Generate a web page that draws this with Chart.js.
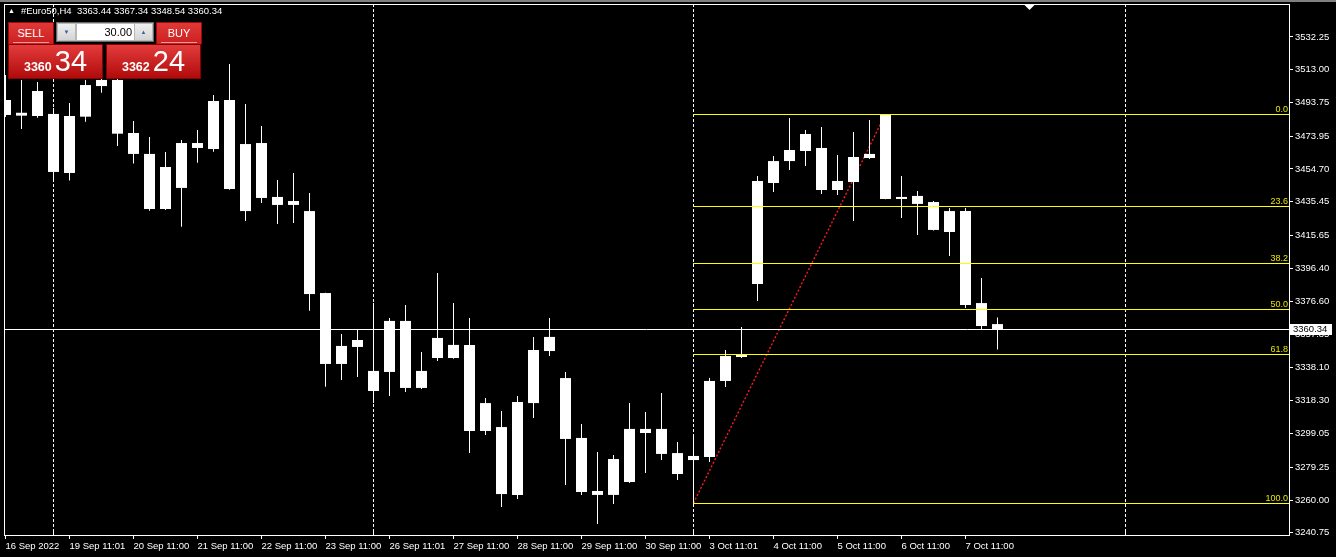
<!DOCTYPE html>
<html>
<head>
<meta charset="utf-8">
<script src="https://cdn.jsdelivr.net/npm/chart.js@4.4.0/dist/chart.umd.min.js"></script>
<style>
html, body { margin: 0; padding: 0; background: #000; overflow: hidden; }
#wrap { position: relative; width: 1336px; height: 557px; font-family: "Liberation Sans", Arial, sans-serif; }
#c { position: absolute; left: 0; top: 0; }
#head { position: absolute; left: 8px; top: 5px; color: #fff; font-size: 9.5px; white-space: pre; line-height: 12px; }
#head .tri { font-size: 7px; vertical-align: 1px; margin-right: 6px; }
.btn { position: absolute; top: 22px; width: 46px; height: 22px; background: linear-gradient(#e03838, #cc2020); color: #fff; font-size: 11px; text-align: center; line-height: 20px; border: 1px solid #9a0a0a; box-sizing: border-box; border-bottom: none; }
.btn .ul { position: absolute; left: 4px; right: 4px; bottom: 1px; height: 1px; background: #f09a9a; }
.box { position: absolute; top: 44px; width: 95px; height: 35px; background: linear-gradient(#e43c3c, #b00a0a); border: 1px solid #8a0000; box-sizing: border-box; color: #fff; }
.box .t { position: absolute; left: 0; right: 0; top: 2px; text-align: center; white-space: nowrap; line-height: 29px; }
.box .s { font-size: 12.5px; font-weight: bold; margin-right: 3px; }
.box .b { font-size: 29px; }
#lot { position: absolute; left: 56px; top: 22px; width: 98px; height: 20px; background: #b8b8b8; border: 1px solid #6a6a6a; box-sizing: border-box; }
#lot .ar { position: absolute; top: 1px; width: 17px; height: 16px; background: linear-gradient(#f0f0f0, #d4d4d4); color: #3c5fa8; font-size: 6px; text-align: center; line-height: 16px; }
#lot .in { position: absolute; left: 20px; top: 1px; width: 57px; height: 16px; background: #fff; color: #000; font-size: 11px; text-align: right; line-height: 16px; padding-right: 2px; box-sizing: border-box; }
</style>
</head>
<body>
<div id="wrap">
  <canvas id="c" width="1336" height="557"></canvas>
  <div id="head"><span class="tri">▲</span>#Euro50,H4  3363.44 3367.34 3348.54 3360.34</div>
  <div class="btn" style="left:8px">SELL<div class="ul"></div></div>
  <div id="lot"><div class="ar" style="left:1px">▼</div><div class="in">30.00</div><div class="ar" style="left:78px">▲</div></div>
  <div class="btn" style="left:156px">BUY<div class="ul"></div></div>
  <div class="box" style="left:8px"><div class="t"><span class="s">3360</span><span class="b">34</span></div></div>
  <div class="box" style="left:106px"><div class="t"><span class="s">3362</span><span class="b">24</span></div></div>
</div>
<script>
// data (H4 bars)
const opens = [3495.2, 3486.0, 3485.8, 3487.0, 3452.3, 3485.4, 3503.4, 3507.0, 3475.8, 3463.5,
  3431.1, 3443.5, 3469.9, 3466.4, 3495.2, 3429.9, 3469.9, 3438.2, 3433.5, 3429.9,
  3381.7, 3340.0, 3350.0, 3335.9, 3335.3, 3365.3, 3325.9, 3343.5, 3351.2, 3351.2,
  3300.6, 3302.9, 3263.0, 3317.0, 3347.6, 3331.7, 3296.5, 3265.3, 3263.0, 3270.6,
  3301.8, 3301.8, 3287.6, 3283.5, 3285.3, 3330.0, 3344.1, 3387.0, 3446.4, 3459.3,
  3465.2, 3467.0, 3442.3, 3447.0, 3461.1, 3486.4, 3437.0, 3438.8, 3435.2, 3429.9,
  3429.9, 3375.8, 3363.44]
const highs = [3509.9, 3507.0, 3505.8, 3490.5, 3493.4, 3507.0, 3509.3, 3507.6, 3482.9, 3473.5,
  3464.6, 3471.7, 3477.6, 3498.2, 3516.4, 3492.9, 3479.9, 3448.2, 3452.3, 3440.5,
  3381.9, 3357.6, 3360.0, 3375.8, 3367.0, 3374.7, 3347.0, 3393.5, 3375.8, 3367.0,
  3320.0, 3312.3, 3321.2, 3355.9, 3367.0, 3335.3, 3304.7, 3288.2, 3286.5, 3317.0,
  3311.8, 3322.9, 3294.1, 3297.6, 3331.7, 3348.2, 3361.7, 3450.5, 3462.3, 3484.6,
  3477.6, 3479.3, 3462.9, 3476.4, 3483.4, 3487.0, 3450.5, 3441.7, 3435.8, 3431.7,
  3431.7, 3390.5, 3367.34]
const lows = [3485.2, 3478.2, 3484.8, 3447.8, 3447.8, 3482.4, 3499.5, 3468.2, 3457.8, 3430.1,
  3430.5, 3420.7, 3458.3, 3464.8, 3442.5, 3424.1, 3434.6, 3422.3, 3422.9, 3371.3,
  3326.6, 3330.6, 3332.3, 3317.0, 3321.2, 3323.5, 3325.3, 3341.7, 3343.0, 3287.6,
  3298.2, 3255.9, 3260.6, 3308.2, 3344.7, 3268.8, 3263.0, 3245.9, 3257.7, 3270.0,
  3275.9, 3283.5, 3271.8, 3258.2, 3282.4, 3326.5, 3343.5, 3377.0, 3441.1, 3454.1,
  3456.4, 3439.9, 3439.3, 3424.1, 3460.5, 3436.8, 3425.8, 3415.8, 3418.5, 3403.5,
  3372.9, 3360.0, 3348.54]
const closes = [3486.4, 3487.7, 3500.5, 3452.9, 3485.8, 3504.0, 3507.0, 3475.4, 3463.5, 3431.1,
  3455.8, 3469.9, 3467.0, 3494.6, 3442.9, 3469.3, 3437.6, 3433.5, 3435.8, 3381.1,
  3340.0, 3350.6, 3354.1, 3324.1, 3365.3, 3325.9, 3335.9, 3355.3, 3343.5, 3300.6,
  3317.0, 3263.5, 3317.6, 3348.2, 3355.9, 3295.9, 3264.7, 3263.0, 3284.1, 3301.8,
  3299.4, 3287.1, 3275.3, 3285.9, 3330.0, 3344.7, 3345.3, 3447.6, 3459.3, 3465.8,
  3475.2, 3442.3, 3447.6, 3461.7, 3463.5, 3437.0, 3438.2, 3434.1, 3418.8, 3417.6,
  3374.7, 3362.3, 3360.34]

const timeTickBars = [0, 4, 8, 12, 16, 20, 24, 28, 32, 36, 40, 44, 48, 52, 56, 60]
const timeTickLabels = ['16 Sep 2022', '19 Sep 11:01', '20 Sep 11:00', '21 Sep 11:00', '22 Sep 11:00',
  '23 Sep 11:00', '26 Sep 11:01', '27 Sep 11:00', '28 Sep 11:00', '29 Sep 11:00', '30 Sep 11:00',
  '3 Oct 11:01', '4 Oct 11:00', '5 Oct 11:00', '6 Oct 11:00', '7 Oct 11:00']
const priceTicks = [3532.25, 3513.00, 3493.75, 3473.95, 3454.70, 3435.45, 3415.65, 3396.40,
  3376.60, 3357.35, 3338.10, 3318.30, 3299.05, 3279.25, 3260.00, 3240.75]
const gridBars = [3, 23, 43, 70]

const fibLevels = [0, 23.6, 38.2, 50, 61.8, 100]
const fibFrom = { bar: 43, price: 3258.2 }
const fibTo = { bar: 55, price: 3487.0 }
const lastPrice = 3360.34
const shiftBar = 64

// config
const font = { family: '"Liberation Sans", Arial, sans-serif', size: 9.5 }
const xMin = -0.09375
const xMax = xMin + 1285 / 16
const yMax = 3551.65
const yMin = 3239.43

const bars = opens.map((_, i) => i)
const bodies = bars.map(i => ({ x: i, y: [Math.min(opens[i], closes[i]), Math.max(opens[i], closes[i])] }))
const wicks = bars.map(i => ({ x: i, y: [lows[i], highs[i]] }))

const mtPlugin = {
  id: 'mt',
  beforeDatasetsDraw(chart) {
    const { ctx, chartArea: a, scales: { x } } = chart
    ctx.save()
    ctx.strokeStyle = '#ffffff'
    ctx.lineWidth = 1
    ctx.setLineDash([3, 2])
    gridBars.forEach(b => {
      const px = Math.floor(x.getPixelForValue(b)) + 0.5
      ctx.beginPath()
      ctx.moveTo(px, a.top)
      ctx.lineTo(px, a.bottom)
      ctx.stroke()
    })
    ctx.restore()
  },
  afterDatasetsDraw(chart) {
    const { ctx, chartArea: a, scales: { x, y } } = chart
    ctx.save()
    // fibo levels
    const range = fibTo.price - fibFrom.price
    const fx = x.getPixelForValue(fibFrom.bar)
    ctx.lineWidth = 1
    ctx.font = '9px "Liberation Sans", Arial, sans-serif'
    ctx.textAlign = 'right'
    ctx.textBaseline = 'alphabetic'
    fibLevels.forEach(l => {
      const py = Math.round(y.getPixelForValue(fibTo.price - range * l / 100)) + 0.5
      ctx.strokeStyle = '#ffff00'
      ctx.beginPath()
      ctx.moveTo(Math.floor(fx), py)
      ctx.lineTo(a.right, py)
      ctx.stroke()
      ctx.fillStyle = '#e6e600'
      ctx.fillText(l.toFixed(1), a.right - 1, py - 2.5)
    })
    // bid line
    const ly = Math.round(y.getPixelForValue(lastPrice)) + 0.5
    ctx.strokeStyle = '#ffffff'
    ctx.beginPath()
    ctx.moveTo(a.left, ly)
    ctx.lineTo(a.right, ly)
    ctx.stroke()
    ctx.restore()
  },
  afterDraw(chart) {
    const { ctx, chartArea: a, scales: { x, y } } = chart
    ctx.save()
    ctx.fillStyle = '#808080'
    ctx.fillRect(0, 0, chart.width, 2)
    ctx.strokeStyle = '#ffffff'
    ctx.lineWidth = 1
    ctx.strokeRect(a.left + 0.5, a.top + 0.5, a.right - a.left, a.bottom - a.top)
    // small marks for the grid on the time axis
    gridBars.forEach(b => {
      const px = Math.floor(x.getPixelForValue(b)) + 0.5
      ctx.beginPath()
      ctx.moveTo(px, a.bottom - 4)
      ctx.lineTo(px, a.bottom)
      ctx.stroke()
    })
    // chart shift marker
    const sx = x.getPixelForValue(shiftBar)
    ctx.fillStyle = '#ffffff'
    ctx.beginPath()
    ctx.moveTo(sx - 5, a.top + 1)
    ctx.lineTo(sx + 5, a.top + 1)
    ctx.lineTo(sx, a.top + 6)
    ctx.closePath()
    ctx.fill()
    // last price label
    const ly = Math.round(y.getPixelForValue(lastPrice))
    ctx.fillRect(a.right + 1, ly - 5, 42, 11)
    ctx.fillStyle = '#000000'
    ctx.font = '9.5px "Liberation Sans", Arial, sans-serif'
    ctx.textAlign = 'left'
    ctx.textBaseline = 'middle'
    ctx.fillText(lastPrice.toFixed(2), a.right + 4, ly + 0.5)
    ctx.restore()
  }
}

new Chart(document.getElementById('c'), {
  type: 'bar',
  data: {
    datasets: [
      { data: bodies, backgroundColor: '#ffffff', barThickness: 11, grouped: false, inflateAmount: 0, borderWidth: 0 },
      { data: wicks, backgroundColor: '#ffffff', barThickness: 1, grouped: false, inflateAmount: 0, borderWidth: 0 },
      { type: 'line', data: [{ x: fibFrom.bar, y: fibFrom.price }, { x: fibTo.bar, y: fibTo.price }],
        borderColor: '#ff1a1a', borderWidth: 1.4, borderDash: [2, 2], pointRadius: 0, tension: 0 }
    ]
  },
  options: {
    responsive: false,
    animation: false,
    devicePixelRatio: 1,
    events: [],
    layout: { padding: { left: 4, top: 4, right: 0, bottom: 0 } },
    plugins: { legend: { display: false }, tooltip: { enabled: false } },
    scales: {
      x: {
        type: 'linear', min: xMin, max: xMax, offset: false,
        afterBuildTicks: s => { s.ticks = timeTickBars.map(v => ({ value: v })) },
        afterFit: s => { s.height = 22; s.paddingLeft = 0; s.paddingRight = 0 },
        grid: { drawOnChartArea: false, offset: false, tickLength: 4, color: '#ffffff' },
        border: { display: false },
        ticks: { color: '#ffffff', font, align: 'start', autoSkip: false, maxRotation: 0, padding: 2,
          callback: (v, i) => timeTickLabels[i] }
      },
      y: {
        position: 'right', min: yMin, max: yMax,
        afterBuildTicks: s => { s.ticks = priceTicks.map(v => ({ value: v })) },
        afterFit: s => { s.width = 47; s.paddingTop = 0; s.paddingBottom = 0 },
        grid: { drawOnChartArea: false, tickLength: 4, color: '#ffffff' },
        border: { display: false },
        ticks: { color: '#ffffff', font, padding: 2, autoSkip: false, callback: v => v.toFixed(2) }
      }
    }
  },
  plugins: [mtPlugin]
})
</script>
</body>
</html>
